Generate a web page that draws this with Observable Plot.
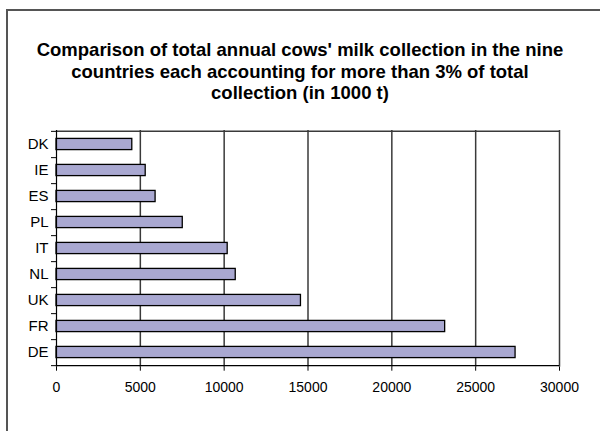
<!DOCTYPE html>
<html>
<head>
<meta charset="utf-8">
<script src="https://cdn.jsdelivr.net/npm/d3@7"></script>
<script src="https://cdn.jsdelivr.net/npm/@observablehq/plot@0.6"></script>
<style>
  html, body { margin: 0; padding: 0; background: #fff; overflow: hidden; width: 600px; height: 431px; }
  body { position: relative; font-family: "Liberation Sans", Arial, sans-serif; }
  #frame { position: absolute; left: 6px; top: 9px; width: 640px; height: 460px; z-index: 5;
           border-top: 2px solid #555; border-left: 2px solid #555; box-sizing: border-box; pointer-events: none; }
  #title { position: relative; height: 110px; box-sizing: border-box; padding-top: 39px;
           width: 600px; text-align: center; font-weight: bold; font-size: 18.5px; line-height: 21.5px;
           color: #000; white-space: nowrap; }
  #chart { position: relative; }
  #chart svg { display: block; }
</style>
</head>
<body>
<div id="frame"></div>
<div id="title"></div>
<div id="chart"></div>
<script>
const titleLines = [
  "Comparison of total annual cows' milk collection in the nine",
  "countries each accounting for more than 3% of total",
  "collection (in 1000 t)"
];
const countries = ["DK", "IE", "ES", "PL", "IT", "NL", "UK", "FR", "DE"];
const collection = [4520, 5320, 5910, 7530, 10210, 10690, 14580, 23180, 27380];
const xTicks = [0, 5000, 10000, 15000, 20000, 25000, 30000];
const gridTicks = [5000, 10000, 15000, 20000, 25000, 30000];

const titleEl = document.getElementById("title");
titleLines.forEach((t, i) => {
  if (i) titleEl.appendChild(document.createElement("br"));
  titleEl.appendChild(document.createTextNode(t));
});

const data = countries.map((c, i) => ({country: c, value: collection[i]}));

const height = 321, marginTop = 20, marginBottom = 64.3;
const step = (height - marginTop - marginBottom) / countries.length;
const barH = 11.5;
const inset = (step - barH) / 2;

const chart = Plot.plot({
  width: 600,
  height,
  marginTop,
  marginBottom,
  marginLeft: 56,
  marginRight: 41,
  style: {fontFamily: "'Liberation Sans', Arial, sans-serif", fontSize: "14px", color: "#000", background: "#fff"},
  x: {domain: [0, 30000], label: null},
  y: {domain: countries, padding: 0, label: null},
  marks: [
    Plot.ruleX(gridTicks, {stroke: "#3a3a3a", strokeWidth: 1.5}),
    Plot.ruleY([0].map(() => countries[0]), {y: d => d, dy: -step / 2, stroke: "#3a3a3a", strokeWidth: 1.5}),
    Plot.barX(data, {x: "value", y: "country", fill: "#a9a8d1", stroke: "#000", strokeWidth: 1.3, insetTop: inset, insetBottom: inset}),
    Plot.axisX(xTicks, {tickSize: 4, tickPadding: 11, tickFormat: d => String(d), stroke: "#000", fontSize: 14}),
    Plot.ruleY([0], {y: () => countries[countries.length - 1], dy: step / 2, stroke: "#000", strokeWidth: 1.2}),
    Plot.ruleX([0], {stroke: "#000", strokeWidth: 1.2}),
    Plot.axisY({tickSize: 0, tickPadding: 8, fontSize: 15}),
    Plot.axisY({tickSize: 5, text: null, dy: step / 2, stroke: "#000"}),
    Plot.axisY([countries[0]], {tickSize: 5, text: null, dy: -step / 2, stroke: "#000"})
  ]
});
document.getElementById("chart").appendChild(chart);
</script>
</body>
</html>
